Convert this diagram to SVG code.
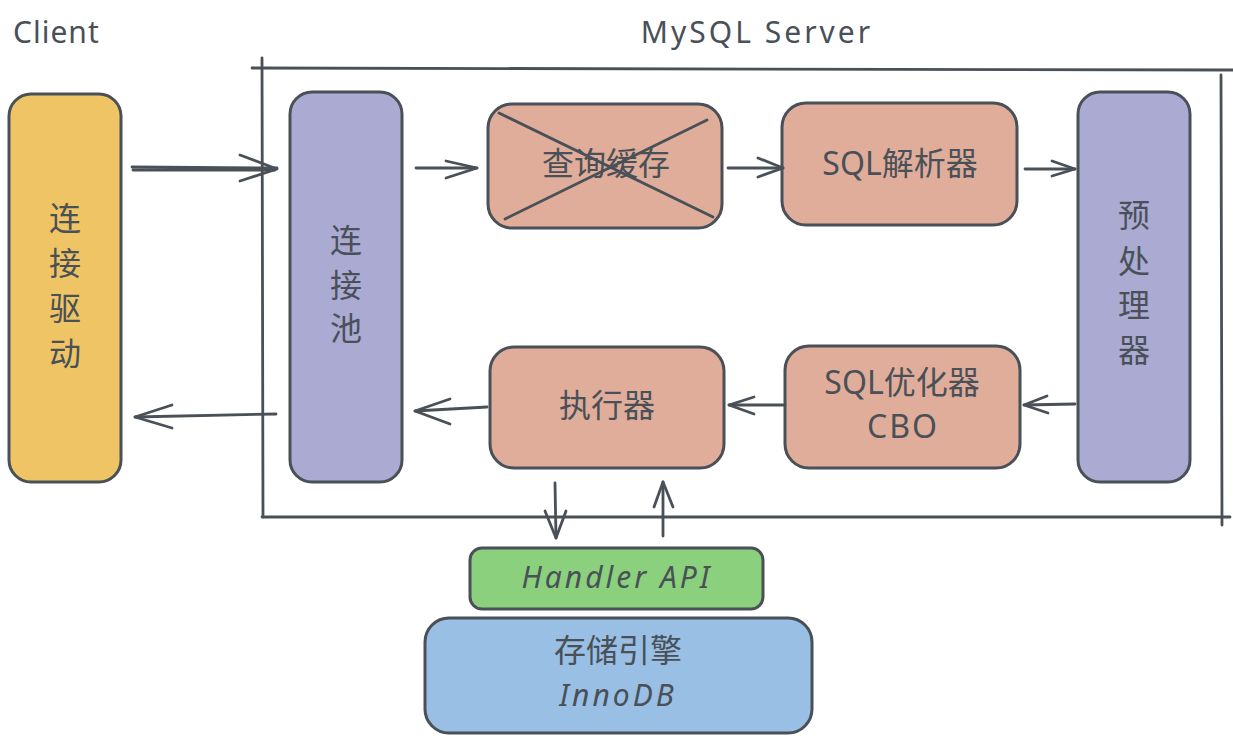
<svg xmlns="http://www.w3.org/2000/svg" width="1233" height="740" viewBox="0 0 1233 740">
<defs>
<style>
.box{stroke:#495057;stroke-width:3;}
.ln{stroke:#495057;stroke-width:2.8;fill:none;stroke-linecap:round;stroke-linejoin:round;}
.t{font-family:"Noto Sans","Noto Sans CJK SC",sans-serif;fill:#495057;text-anchor:middle;}
.cjk{font-size:32px;}
.lat{font-size:30px;}
.it{font-style:italic;}
.yel{fill:#eec465;}
.pur{fill:#abaad3;}
.red{fill:#e0ad9a;}
.grn{fill:#8bd07c;}
.blu{fill:#99bfe5;}
</style>
</defs>
<rect width="1233" height="740" fill="#ffffff"/>

<g id="labels">
<text class="t lat" x="13" y="43" text-anchor="start" style="text-anchor:start" letter-spacing="1">Client</text>
<text class="t lat" x="757" y="43" letter-spacing="3">MySQL Server</text>
</g>

<g id="server-frame">
<path class="ln" d="M252 68 L1233 70"/>
<path class="ln" d="M262 58 L263 517"/>
<path class="ln" d="M262 517 L1230 517"/>
<path class="ln" d="M1221 75 L1222 525"/>
</g>

<g id="driver">
<rect class="box yel" x="9" y="94" width="112" height="388" rx="22"/>
<text class="t cjk" x="65" y="230">连</text>
<text class="t cjk" x="65" y="275">接</text>
<text class="t cjk" x="65" y="320">驱</text>
<text class="t cjk" x="65" y="365">动</text>
</g>

<g id="pool">
<rect class="box pur" x="290" y="92" width="112" height="390" rx="22"/>
<text class="t cjk" x="346" y="252">连</text>
<text class="t cjk" x="346" y="297">接</text>
<text class="t cjk" x="346" y="340">池</text>
</g>

<g id="cache">
<rect class="box red" x="488" y="104" width="234" height="124" rx="24"/>
<text class="t cjk" x="606" y="175">查询缓存</text>
<path class="ln" d="M499 113 L713 217" stroke-width="3"/>
<path class="ln" d="M505 219 L707 120" stroke-width="3"/>
</g>

<g id="parser">
<rect class="box red" x="782" y="103" width="235" height="122" rx="24"/>
<text class="t cjk" x="900" y="175">SQL解析器</text>
</g>

<g id="preprocessor">
<rect class="box pur" x="1078" y="92" width="112" height="390" rx="22"/>
<text class="t cjk" x="1134" y="227">预</text>
<text class="t cjk" x="1134" y="273">处</text>
<text class="t cjk" x="1134" y="317">理</text>
<text class="t cjk" x="1134" y="362">器</text>
</g>

<g id="optimizer">
<rect class="box red" x="785" y="346" width="235" height="122" rx="24"/>
<text class="t cjk" x="902" y="394">SQL优化器</text>
<text class="t cjk" x="903" y="438" letter-spacing="2">CBO</text>
</g>

<g id="executor">
<rect class="box red" x="490" y="347" width="234" height="121" rx="24"/>
<text class="t cjk" x="607" y="417">执行器</text>
</g>

<g id="handler">
<rect class="box grn" x="470" y="548" width="293" height="61" rx="12"/>
<text class="t lat it" x="617" y="588" font-size="28" letter-spacing="3">Handler API</text>
</g>

<g id="engine">
<rect class="box blu" x="425" y="618" width="387" height="115" rx="24"/>
<text class="t cjk" x="618" y="662">存储引擎</text>
<text class="t lat it" x="618" y="706" letter-spacing="3">InnoDB</text>
</g>

<g id="connectors">
<path class="ln" d="M132 167 L277 168 M133 170 L275 170"/>
<path class="ln" d="M240 155 L277 169 L240 181"/>
<path class="ln" d="M416 168 L477 168"/>
<path class="ln" d="M446 161 L477 168 L446 178"/>
<path class="ln" d="M728 168 L783 168"/>
<path class="ln" d="M758 158 L783 168 L758 177"/>
<path class="ln" d="M1025 169 L1075 169"/>
<path class="ln" d="M1052 161 L1075 169 L1052 176"/>
<path class="ln" d="M1075 404 L1024 405"/>
<path class="ln" d="M1047 396 L1024 405 L1048 413"/>
<path class="ln" d="M785 405 L729 405"/>
<path class="ln" d="M754 397 L729 405 L754 414"/>
<path class="ln" d="M487 407 L415 411"/>
<path class="ln" d="M450 399 L415 411 L450 424"/>
<path class="ln" d="M276 414 L135 417"/>
<path class="ln" d="M172 405 L135 417 L172 428"/>
<path class="ln" d="M555 483 L556 538"/>
<path class="ln" d="M545 511 L556 538 L566 511"/>
<path class="ln" d="M663 536 L663 482"/>
<path class="ln" d="M654 507 L663 482 L673 507"/>
</g>
</svg>
